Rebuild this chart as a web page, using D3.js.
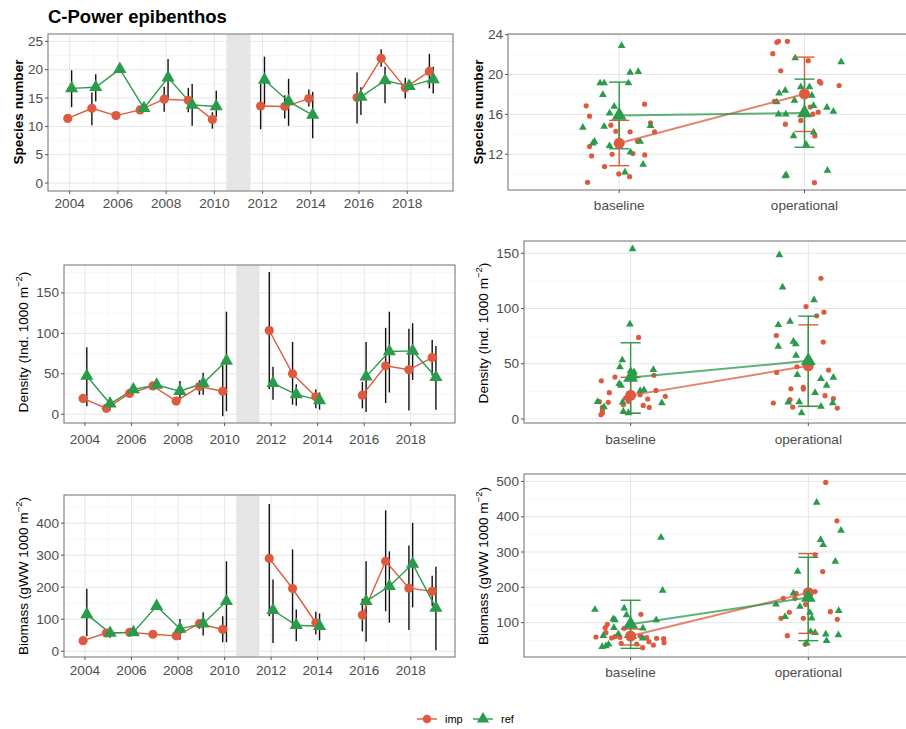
<!DOCTYPE html>
<html><head><meta charset="utf-8">
<script src="https://cdn.jsdelivr.net/npm/d3@7"></script>
<style>body{margin:0;background:#fff}</style>
</head><body>
<script>
// ---------- DATA ----------
const years = [2004,2005,2006,2007,2008,2009,2010,2011,2012,2013,2014,2015,2016,2017,2018,2019];
const xTicks = [2004,2006,2008,2010,2012,2014,2016,2018];

const spImp   = [11.4,13.2,11.9,12.9,14.8,14.6,11.2,null,13.6,13.5,14.9,null,15.1,22.0,16.8,19.7];
const spImpLo = [null,10.2,null,null,12.6,12.5,9.6,null,9.5,11.4,13.5,null,10.5,20.5,14.9,16.7];
const spImpHi = [null,16.0,null,null,17.0,16.8,12.5,null,17.5,15.5,16.5,null,19.5,23.6,18.6,22.8];
const spRef   = [16.7,16.9,20.1,13.2,18.6,13.8,13.5,null,18.2,14.4,12.0,null,15.2,18.1,17.1,18.3];
const spRefLo = [13.4,14.4,null,null,15.0,10.1,11.7,null,13.5,10.1,7.9,null,12.0,14.1,16.4,15.8];
const spRefHi = [19.9,19.2,null,null,21.9,17.5,16.3,null,22.3,18.4,16.1,null,16.9,20.5,18.0,20.5];

const deImp   = [19.6,7.3,25.7,35.0,16.3,34.2,28.5,null,103.5,50.1,21.6,null,23.6,59.9,55.0,70.1];
const deImpLo = [null,null,null,null,null,24,-2.4,null,31,11.8,7.3,null,7.3,13.9,4.5,48];
const deImpHi = [null,null,null,null,null,42,60.7,null,176,89.3,31,null,40,106.8,105.6,92];
const deRef   = [47.3,13.0,30.6,36.3,28.5,38.3,66.0,null,38.3,24.5,17.1,null,46.5,77.5,78.3,45.7];
const deRefLo = [9.8,5,null,null,18,24,3.7,null,17.9,10.6,5.7,null,2.9,26.9,42.4,5.7];
const deRefHi = [82.8,21,null,null,41,51.4,126.8,null,58.7,37,27,null,89.3,126.8,112.5,84.4];

const biImp   = [33,57,59,53,48,86,68,null,290,196,89,null,113,281,197,187];
const biImpLo = [null,null,null,null,null,70,28,null,109,75,52,null,62,125,66,141];
const biImpHi = [null,null,null,null,null,100,109,null,460,318,123,null,164,440,330,236];
const biRef   = [115,57,59,141,70,86,156,null,128,81,78,null,156,203,273,135];
const biRefLo = [47,42,null,null,36,49,28,null,26,31,34,null,30,89,137,3];
const biRefHi = [195,68,null,null,101,122,281,null,224,130,118,null,281,312,401,264];

const periods = ["baseline","operational"];

// species number: raw samples (value, jitter offset in category units)
const spBaseImpVal = [16.86,15.82,12.77,11.83,9.18,10.76,14.92,14.31,12.0,10.02,9.75,14.25,12.07,13.31,11.93,17.03,15.15,14.25];
const spBaseImpJit = [-0.178,-0.160,-0.160,-0.149,-0.171,-0.079,-0.045,-0.018,-0.038,-0.002,0.056,0.059,0.074,0.099,0.138,0.137,0.169,0.191];
const spBaseRefVal = [14.68,13.11,13.27,19.14,19.14,17.97,14.78,16.12,16.79,22.9,19.14,20.21,20.28,12.2,10.19,13.27,14.85,10.96,12.84];
const spBaseRefJit = [-0.196,-0.142,-0.133,-0.103,-0.081,-0.088,-0.081,-0.052,-0.027,0.013,0.050,0.059,0.103,0.061,0.031,0.113,0.169,0.129,-0.052];
const spOpImpVal = [22.09,23.23,23.33,23.33,20.38,21.39,19.31,19.14,18.9,17.3,16.73,16.22,16.02,15.39,15.02,13.84,9.15];
const spOpImpJit = [-0.171,-0.149,-0.140,-0.092,-0.128,0.020,0.081,0.088,0.187,-0.162,0.031,0.074,0.045,-0.020,-0.103,0.056,0.054];
const spOpRefVal = [21.65,21.25,18.13,18.4,18.74,18.74,17.9,17.4,17.23,16.02,16.02,16.86,16.69,16.29,14.21,13.84,12.97,9.82,9.92,10.36];
const spOpRefJit = [-0.050,0.198,-0.137,-0.104,-0.020,0.027,0.040,-0.054,-0.149,-0.140,-0.101,0.049,0.121,0.156,0.049,-0.059,0.009,-0.104,-0.099,0.124];

const deBaseImpVal = [34.6,15.7,3.9,10.5,7.8,5.4,23.8,15.1,38.0,13.0,19.0,16.0,22.0,73.8,12.3,18.1,10.5,39.5,25.9,20.5];
const deBaseImpJit = [-0.165,-0.176,-0.167,-0.159,-0.159,-0.159,-0.120,-0.126,-0.088,-0.041,-0.028,-0.013,0.053,0.045,0.071,0.096,0.105,0.131,0.143,0.195];
const deBaseRefVal = [15.7,10.8,53.3,47.0,31.9,30.4,6.9,5.4,85.8,153.9,43.7,42.5,25.6,26.2,44.6,14.5,15.1,38.6];
const deBaseRefJit = [-0.186,-0.150,-0.047,-0.060,-0.064,-0.054,-0.041,-0.013,-0.004,0.011,0.000,0.019,0.054,0.075,0.128,0.176,-0.045,0.024];
const deOpImpVal = [14.5,42.2,75.6,27.4,17.5,10.8,47.3,28.6,27.1,101.8,93.4,127.4,96.7,69.6,44.3,21.1,18.4,9.9];
const deOpImpJit = [-0.197,-0.178,-0.180,-0.098,-0.103,-0.088,-0.064,-0.028,-0.028,-0.013,0.047,0.071,0.088,0.084,0.114,0.094,0.141,0.163];
const deOpRefVal = [148.5,119.3,85.2,88.3,70.2,67.8,57.5,40.0,65.7,107.8,15.1,15.4,5.4,23.8,36.4,11.4,30.4,37.6,14.5];
const deOpRefJit = [-0.163,-0.145,-0.169,-0.103,-0.084,-0.071,-0.069,-0.062,-0.169,0.032,-0.113,-0.051,-0.038,0.038,0.071,0.071,0.103,0.141,0.137];

const biBaseImpVal = [59.3,85.8,95.3,71.6,56.5,60.3,58.4,41.4,83.9,39.5,123.6,29.1,62.2,57.4,46.1,36.6,55.6,54.6,43.3];
const biBaseImpJit = [-0.195,-0.143,-0.131,-0.139,-0.107,-0.088,-0.060,-0.053,-0.036,0.034,0.058,0.068,0.053,0.090,0.103,0.128,0.146,0.186,0.188];
const biBaseRefVal = [136.9,31.9,33.8,38.5,63.1,110.4,107.6,85.8,67.8,140.7,121.7,63.1,83.9,107.6,190.8,341.1,60.3,55.6];
const biBaseRefJit = [-0.201,-0.160,-0.139,-0.124,-0.154,-0.098,-0.088,-0.094,-0.069,-0.036,-0.023,-0.017,0.069,0.144,0.180,0.171,0.015,0.068];
const biOpImpVal = [169.0,112.3,129.3,63.1,183.2,169.0,112.3,152.0,38.5,188.0,292.0,244.7,497.2,131.2,388.4,109.5];
const biOpImpJit = [-0.141,-0.154,-0.107,-0.118,-0.069,-0.075,-0.028,-0.015,-0.017,0.038,0.038,0.081,0.098,0.124,0.161,0.163];
const biOpRefVal = [152.0,117.0,183.2,244.7,145.4,41.4,128.4,112.3,74.5,71.6,440.4,334.5,320.3,66.9,48.9,273.0,65.0,134.0,361.0];
const biOpRefJit = [-0.182,-0.131,-0.084,-0.060,-0.047,-0.009,0.009,0.019,0.013,0.038,0.047,0.069,0.084,0.098,0.103,0.152,0.169,0.171,0.184];

// summary (mean, lower, upper) per period
const spSumImp = [13.1,18.05], spSumImpLo = [10.85,14.28], spSumImpHi = [15.4,21.75];
const spSumRef = [15.9,16.15], spSumRefLo = [12.55,12.7], spSumRefHi = [19.24,19.54];
const deSumImp = [21.4,48.2], deSumImpLo = [5.2,11.5], deSumImpHi = [37.8,85.2];
const deSumRef = [37.5,52.7], deSumRefLo = [5.2,11.4], deSumRefHi = [69.0,93.1];
const biSumImp = [62,185], biSumImpLo = [36.6,69.7], biSumImpHi = [82,295.7];
const biSumRef = [95.3,171], biSumRefLo = [27.2,49], biSumRefHi = [163.4,285];

// ---------- STYLE ----------
const RED = "#DD5A3E", GREEN = "#2A9A4B";
const W = 906, H = 729;
const FONT = "'Liberation Sans', Arial, Helvetica, sans-serif";
const TICK_FS = 13.6, TITLE_FS = 13.6;

const svg = d3.select("body").append("svg")
  .attr("width", W).attr("height", H)
  .style("font-family", FONT);

svg.append("text").attr("x", 48).attr("y", 23)
  .attr("font-size", 18.5).attr("font-weight", "bold").attr("fill", "#000")
  .text("C-Power epibenthos");

function yTitle(x, y, parts, bold) {
  const t = svg.append("text")
    .attr("transform", `translate(${x},${y}) rotate(-90)`)
    .attr("text-anchor", "middle").attr("dominant-baseline", "central")
    .attr("font-size", TITLE_FS).attr("fill", "#000")
    .attr("font-weight", bold ? "bold" : "normal");
  parts.forEach(p => {
    const ts = t.append("tspan").text(p.t);
    if (p.sup) ts.attr("font-size", 9.5).attr("dy", -5);
    if (p.after) ts.attr("dy", 5);
  });
}

function frame(g, x0, x1, y0, y1) {
  g.append("rect").attr("x", x0).attr("y", y0).attr("width", x1 - x0).attr("height", y1 - y0)
    .attr("fill", "none").attr("stroke", "#6f6f6f").attr("stroke-width", 1);
}

function gridY(g, y, ticks, minor, x0, x1) {
  minor.forEach(v => g.append("line").attr("x1", x0).attr("x2", x1)
    .attr("y1", y(v)).attr("y2", y(v)).attr("stroke", "#F3F3F3").attr("stroke-width", 0.7));
  ticks.forEach(v => g.append("line").attr("x1", x0).attr("x2", x1)
    .attr("y1", y(v)).attr("y2", y(v)).attr("stroke", "#E6E6E6").attr("stroke-width", 1));
}

function yAxisLabels(g, y, ticks, x0) {
  ticks.forEach(v => {
    g.append("line").attr("x1", x0 - 3).attr("x2", x0).attr("y1", y(v)).attr("y2", y(v))
      .attr("stroke", "#555");
    g.append("text").attr("x", x0 - 5).attr("y", y(v)).attr("text-anchor", "end")
      .attr("dominant-baseline", "central").attr("font-size", TICK_FS).attr("fill", "#4D4D4D").text(v);
  });
}

function symbol(g, type, cx, cy, color, size) {
  if (type === "circle") {
    g.append("circle").attr("cx", cx).attr("cy", cy).attr("r", size).attr("fill", color);
  } else {
    g.append("path").attr("d", d3.symbol().type(d3.symbolTriangle).size(size)())
      .attr("transform", `translate(${cx},${cy})`).attr("fill", color);
  }
}

// ---------- TIME SERIES PANELS ----------
function tsPanel(o) {
  const g = svg.append("g");
  const x = d3.scaleLinear().domain([2003.1, 2019.9]).range([o.x0, o.x1]);
  const y = d3.scaleLinear().domain(o.yDomain).range([o.y1, o.y0]);
  g.append("rect").attr("x", o.x0).attr("y", o.y0).attr("width", o.x1 - o.x0).attr("height", o.y1 - o.y0).attr("fill", "#fff");
  const minorX = d3.range(2005, 2020, 2);
  minorX.forEach(v => g.append("line").attr("x1", x(v)).attr("x2", x(v)).attr("y1", o.y0).attr("y2", o.y1)
    .attr("stroke", "#F3F3F3").attr("stroke-width", 0.7));
  xTicks.forEach(v => g.append("line").attr("x1", x(v)).attr("x2", x(v)).attr("y1", o.y0).attr("y2", o.y1)
    .attr("stroke", "#E6E6E6").attr("stroke-width", 1));
  gridY(g, y, o.yTicks, o.yMinor, o.x0, o.x1);
  // construction gap band
  g.append("rect").attr("x", x(2010.5)).attr("width", x(2011.5) - x(2010.5))
    .attr("y", o.y0 + 0.5).attr("height", o.y1 - o.y0 - 1).attr("fill", "#E5E5E5");

  const dodge = 0.08;
  const series = [
    {v: o.imp, lo: o.impLo, hi: o.impHi, c: RED, sh: "circle", dx: -dodge},
    {v: o.ref, lo: o.refLo, hi: o.refHi, c: GREEN, sh: "tri", dx: dodge}
  ];
  // error bars
  series.forEach(s => years.forEach((yr, i) => {
    if (s.lo[i] == null) return;
    g.append("line").attr("x1", x(yr + s.dx)).attr("x2", x(yr + s.dx))
      .attr("y1", y(s.lo[i])).attr("y2", y(s.hi[i])).attr("stroke", "#111").attr("stroke-width", 1.4);
  }));
  // lines
  series.forEach(s => {
    const line = d3.line().defined((d, i) => s.v[i] != null)
      .x((d, i) => x(years[i] + s.dx)).y((d, i) => y(s.v[i]));
    g.append("path").attr("d", line(years)).attr("fill", "none")
      .attr("stroke", s.c).attr("stroke-width", 1.4);
  });
  // points
  series.forEach(s => years.forEach((yr, i) => {
    if (s.v[i] == null) return;
    symbol(g, s.sh, x(yr + s.dx), y(s.v[i]), s.c, s.sh === "circle" ? 4.6 : 75);
  }));
  frame(g, o.x0, o.x1, o.y0, o.y1);
  yAxisLabels(g, y, o.yTicks, o.x0);
  xTicks.forEach(v => {
    g.append("line").attr("x1", x(v)).attr("x2", x(v)).attr("y1", o.y1).attr("y2", o.y1 + 3).attr("stroke", "#555");
    g.append("text").attr("x", x(v)).attr("y", o.labY).attr("text-anchor", "middle")
      .attr("font-size", TICK_FS).attr("fill", "#4D4D4D").text(v);
  });
}

// ---------- CATEGORY PANELS ----------
function catPanel(o) {
  const g = svg.append("g");
  const x = d3.scaleLinear().domain([-0.6, 1.6]).range([o.x0, o.x0 + 2.2 * o.gap]);
  const x1 = o.x0 + 2.2 * o.gap;
  const y = d3.scaleLinear().domain(o.yDomain).range([o.y1, o.y0]);
  gridY(g, y, o.yTicks, o.yMinor, o.x0, x1);
  periods.forEach((p, i) => g.append("line").attr("x1", x(i)).attr("x2", x(i)).attr("y1", o.y0).attr("y2", o.y1)
    .attr("stroke", "#E6E6E6").attr("stroke-width", 1));
  // raw jittered samples
  o.raw.forEach(r => r.v.forEach((v, k) => {
    symbol(g, r.sh, x(r.p + r.j[k]), y(v), r.c, r.sh === "circle" ? 2.6 : 26);
  }));
  const sums = [
    {m: o.imp, lo: o.impLo, hi: o.impHi, c: RED, sh: "circle"},
    {m: o.ref, lo: o.refLo, hi: o.refHi, c: GREEN, sh: "tri"}
  ];
  // error bars
  sums.forEach(s => periods.forEach((p, i) => {
    const cx = x(i);
    g.append("line").attr("x1", cx).attr("x2", cx).attr("y1", y(s.lo[i])).attr("y2", y(s.hi[i]))
      .attr("stroke", s.c).attr("stroke-width", 1.4);
    [s.lo[i], s.hi[i]].forEach(v => g.append("line").attr("x1", cx - 10).attr("x2", cx + 10)
      .attr("y1", y(v)).attr("y2", y(v)).attr("stroke", s.c).attr("stroke-width", 1.4));
  }));
  // connecting lines
  sums.forEach(s => {
    const line = d3.line().x((d, i) => x(i)).y((d, i) => y(s.m[i]));
    g.append("path").attr("d", line(periods)).attr("fill", "none")
      .attr("stroke", s.c).attr("stroke-width", 2).attr("stroke-opacity", 0.75);
  });
  sums.forEach(s => periods.forEach((p, i) => {
    symbol(g, s.sh, x(i), y(s.m[i]), s.c, s.sh === "circle" ? 5.5 : 95);
  }));
  frame(g, o.x0, x1, o.y0, o.y1);
  yAxisLabels(g, y, o.yTicks, o.x0);
  periods.forEach((p, i) => {
    g.append("line").attr("x1", x(i)).attr("x2", x(i)).attr("y1", o.y1).attr("y2", o.y1 + 3).attr("stroke", "#555");
    g.append("text").attr("x", x(i)).attr("y", o.labY).attr("text-anchor", "middle")
      .attr("font-size", TICK_FS).attr("fill", "#4D4D4D").text(p);
  });
}

// --- left column
tsPanel({x0: 48, x1: 453, y0: 34, y1: 191, yDomain: [-1.4, 26.3],
  yTicks: [0,5,10,15,20,25], yMinor: [2.5,7.5,12.5,17.5,22.5], labY: 208,
  imp: spImp, impLo: spImpLo, impHi: spImpHi, ref: spRef, refLo: spRefLo, refHi: spRefHi});
tsPanel({x0: 64, x1: 455, y0: 265, y1: 423, yDomain: [-10.8, 184.5],
  yTicks: [0,50,100,150], yMinor: [25,75,125,175], labY: 444,
  imp: deImp, impLo: deImpLo, impHi: deImpHi, ref: deRef, refLo: deRefLo, refHi: deRefHi});
tsPanel({x0: 64, x1: 455, y0: 495, y1: 657, yDomain: [-18, 488],
  yTicks: [0,100,200,300,400], yMinor: [50,150,250,350,450], labY: 675,
  imp: biImp, impLo: biImpLo, impHi: biImpHi, ref: biRef, refLo: biRefLo, refHi: biRefHi});

// --- right column
catPanel({x0: 508, gap: 185.3, y0: 34, y1: 190, yDomain: [8.41, 24.07],
  yTicks: [12,16,20,24], yMinor: [10,14,18,22], labY: 210,
  raw: [
    {p: 0, v: spBaseImpVal, j: spBaseImpJit, c: RED, sh: "circle"},
    {p: 0, v: spBaseRefVal, j: spBaseRefJit, c: GREEN, sh: "tri"},
    {p: 1, v: spOpImpVal, j: spOpImpJit, c: RED, sh: "circle"},
    {p: 1, v: spOpRefVal, j: spOpRefJit, c: GREEN, sh: "tri"}],
  imp: spSumImp, impLo: spSumImpLo, impHi: spSumImpHi, ref: spSumRef, refLo: spSumRefLo, refHi: spSumRefHi});
catPanel({x0: 524, gap: 177.7, y0: 241, y1: 423, yDomain: [-3.6, 161.1],
  yTicks: [0,50,100,150], yMinor: [25,75,125], labY: 444,
  raw: [
    {p: 0, v: deBaseImpVal, j: deBaseImpJit, c: RED, sh: "circle"},
    {p: 0, v: deBaseRefVal, j: deBaseRefJit, c: GREEN, sh: "tri"},
    {p: 1, v: deOpImpVal, j: deOpImpJit, c: RED, sh: "circle"},
    {p: 1, v: deOpRefVal, j: deOpRefJit, c: GREEN, sh: "tri"}],
  imp: deSumImp, impLo: deSumImpLo, impHi: deSumImpHi, ref: deSumRef, refLo: deSumRefLo, refHi: deSumRefHi});
catPanel({x0: 524, gap: 177.7, y0: 474, y1: 657, yDomain: [2.7, 521],
  yTicks: [100,200,300,400,500], yMinor: [50,150,250,350,450], labY: 677,
  raw: [
    {p: 0, v: biBaseImpVal, j: biBaseImpJit, c: RED, sh: "circle"},
    {p: 0, v: biBaseRefVal, j: biBaseRefJit, c: GREEN, sh: "tri"},
    {p: 1, v: biOpImpVal, j: biOpImpJit, c: RED, sh: "circle"},
    {p: 1, v: biOpRefVal, j: biOpRefJit, c: GREEN, sh: "tri"}],
  imp: biSumImp, impLo: biSumImpLo, impHi: biSumImpHi, ref: biSumRef, refLo: biSumRefLo, refHi: biSumRefHi});

// --- axis titles
yTitle(18, 112, [{t: "Species number"}], true);
yTitle(23, 342, [{t: "Density (Ind. 1000 m"}, {t: "−2", sup: true}, {t: ")", after: true}], false);
yTitle(23, 576, [{t: "Biomass (gWW 1000 m"}, {t: "−2", sup: true}, {t: ")", after: true}], false);
yTitle(478, 112, [{t: "Species number"}], true);
yTitle(483, 333, [{t: "Density (Ind. 1000 m"}, {t: "−2", sup: true}, {t: ")", after: true}], false);
yTitle(483, 566, [{t: "Biomass (gWW 1000 m"}, {t: "−2", sup: true}, {t: ")", after: true}], false);

// --- legend
const groups = ["imp", "ref"];
const lg = svg.append("g");
groups.forEach((gName, i) => {
  const cx = i === 0 ? 427 : 483;
  const c = i === 0 ? RED : GREEN;
  lg.append("line").attr("x1", cx - 10).attr("x2", cx + 10).attr("y1", 719).attr("y2", 719)
    .attr("stroke", c).attr("stroke-width", 1.4);
  symbol(lg, i === 0 ? "circle" : "tri", cx, 719, c, i === 0 ? 4.3 : 65);
  lg.append("text").attr("x", cx + 18).attr("y", 719).attr("dominant-baseline", "central")
    .attr("font-size", 11).attr("fill", "#000").text(gName);
});
</script>
</body></html>
